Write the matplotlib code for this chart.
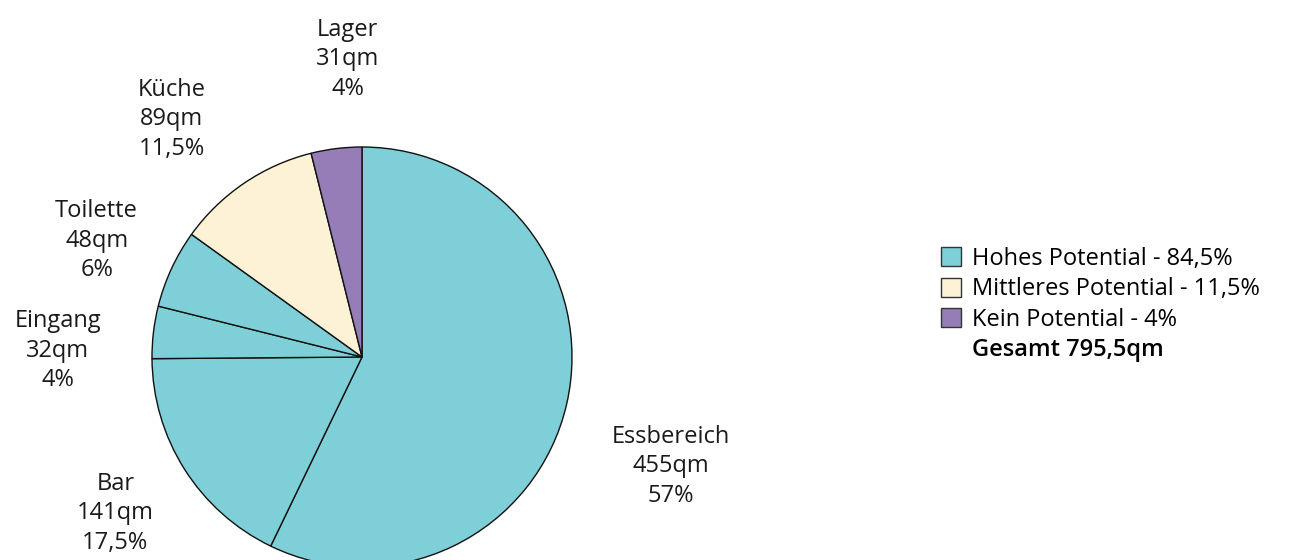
import numpy as np
import matplotlib.pyplot as plt
from matplotlib.patches import Patch

plt.rcParams["font.family"] = ["Open Sans", "DejaVu Sans"]

# room areas in qm, clockwise from 12 o'clock
rooms = ["Essbereich", "Bar", "Eingang", "Toilette", "Küche", "Lager"]
areas = [455, 141, 32, 48, 89, 31]
shares = ["57%", "17,5%", "4%", "6%", "11,5%", "4%"]
potential = ["hoch", "hoch", "hoch", "hoch", "mittel", "kein"]

groups = ["hoch", "mittel", "kein"]
group_labels = ["Hohes Potential - 84,5%", "Mittleres Potential - 11,5%", "Kein Potential - 4%"]
total_label = "Gesamt 795,5qm"

colors = {"hoch": "#7ecfd7", "mittel": "#fdf1d6", "kein": "#977db8"}

# label placement: angle nudge (deg) and radius per slice
label_nudge = [-6.6, 0.0, 5.6, 1.2, 4.5, -4.3]
label_radius = [1.56, 1.39, 1.45, 1.38, 1.45, 1.42]

fig = plt.figure(figsize=(12.9, 5.6), dpi=100)
ax = fig.add_axes([152 / 1290, -7 / 560, 420 / 1290, 420 / 560])

labels = [f"{r}\n{a}qm\n{s}" for r, a, s in zip(rooms, areas, shares)]
wedges, texts = ax.pie(
    areas,
    labels=labels,
    colors=[colors[p] for p in potential],
    startangle=90,
    counterclock=False,
    wedgeprops=dict(edgecolor="#111111", linewidth=1.0),
    textprops=dict(fontsize=17, color="#1a1a1a", linespacing=1.3),
)
for w, t, dn, rad in zip(wedges, texts, label_nudge, label_radius):
    mid = np.deg2rad((w.theta1 + w.theta2) / 2 + dn)
    t.set_position((rad * np.cos(mid), rad * np.sin(mid)))
    t.set_ha("center")
    t.set_va("center")

ax.set_xlim(-1, 1)
ax.set_ylim(-1, 1)
ax.set_aspect("equal")
ax.axis("off")

handles = [Patch(facecolor=colors[g], edgecolor="#333333", linewidth=1.0) for g in groups]
handles.append(Patch(facecolor="none", edgecolor="none"))
leg = fig.legend(
    handles,
    group_labels + [total_label],
    loc="upper left",
    bbox_to_anchor=(941 / 1290, 1 - 247 / 560),
    frameon=False,
    fontsize=17,
    handlelength=0.85,
    handleheight=0.85,
    handletextpad=0.45,
    labelspacing=0.27,
    borderpad=0,
    borderaxespad=0,
)
leg.get_texts()[-1].set_fontweight("semibold")

fig.savefig("out.png", dpi=100)
